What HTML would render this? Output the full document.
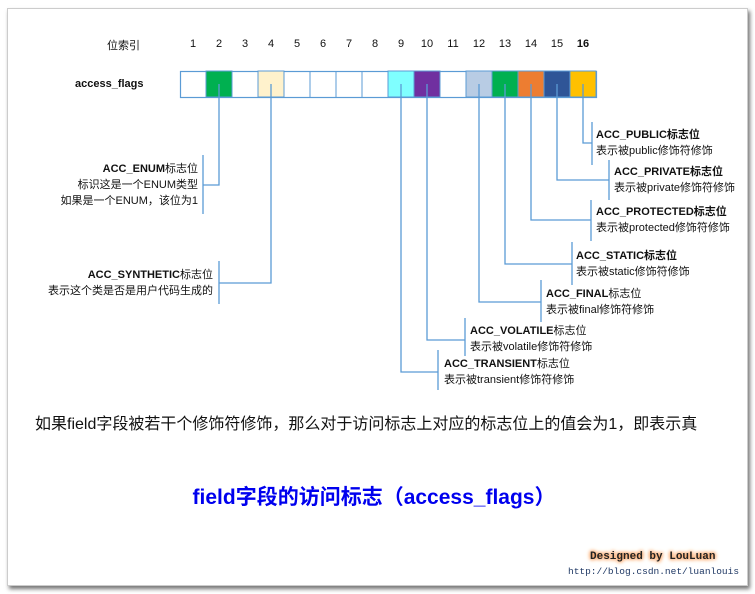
<!DOCTYPE html>
<html><head><meta charset="utf-8"><style>
body{margin:0;width:755px;height:594px;background:#fff;position:relative;overflow:hidden;font-family:"Liberation Sans","Noto Sans CJK SC",sans-serif;color:#111}
.frame{position:absolute;left:7px;top:8px;width:739px;height:576px;background:#fff;border:1px solid #ccc;box-shadow:2px 3px 4px rgba(0,0,0,.55)}
.t{position:absolute;font-size:11px;line-height:16px;white-space:nowrap}
.r{text-align:right}
.n{position:absolute;top:38px;width:26px;text-align:center;font-size:11px}
b{font-weight:bold}
</style></head><body>
<div class="frame"></div>
<svg style="position:absolute;left:0;top:0" width="755" height="594">
<g stroke="#5b9bd5" stroke-width="1.2" fill="none">
<rect x="180.5" y="71.5" width="416" height="26"/>
</g>
<g stroke="#5b9bd5" stroke-width="1">
<rect x="206" y="71" width="26" height="26" fill="#00b050"/>
<rect x="258" y="71" width="26" height="26" fill="#fff2cc"/>
<rect x="388" y="71" width="26" height="26" fill="#7fffff"/>
<rect x="414" y="71" width="26" height="26" fill="#7030a0"/>
<rect x="466" y="71" width="26" height="26" fill="#b8cce4"/>
<rect x="492" y="71" width="26" height="26" fill="#00b050"/>
<rect x="518" y="71" width="26" height="26" fill="#ed7d31"/>
<rect x="544" y="71" width="26" height="26" fill="#2f5597"/>
<rect x="570" y="71" width="26" height="26" fill="#ffc000"/>
<line x1="232" y1="71" x2="232" y2="97"/><line x1="284" y1="71" x2="284" y2="97"/>
<line x1="310" y1="71" x2="310" y2="97"/><line x1="336" y1="71" x2="336" y2="97"/>
<line x1="362" y1="71" x2="362" y2="97"/><line x1="440" y1="71" x2="440" y2="97"/>
</g>
<g stroke="#5b9bd5" stroke-width="1.3" fill="none">
<polyline points="219,84 219,185 203,185"/><line x1="203" y1="155" x2="203" y2="214"/>
<polyline points="271,84 271,283 219,283"/><line x1="219" y1="261" x2="219" y2="304"/>
<polyline points="401,84 401,372 438,372"/><line x1="438" y1="350" x2="438" y2="390"/>
<polyline points="427,84 427,340 465,340"/><line x1="465" y1="318" x2="465" y2="356"/>
<polyline points="479,84 479,302 541,302"/><line x1="541" y1="280" x2="541" y2="322"/>
<polyline points="505,84 505,264 572,264"/><line x1="572" y1="242" x2="572" y2="285"/>
<polyline points="531,84 531,220 591,220"/><line x1="591" y1="200" x2="591" y2="241"/>
<polyline points="557,84 557,180 609,180"/><line x1="609" y1="160" x2="609" y2="200"/>
<polyline points="583,84 583,143 592,143"/><line x1="592" y1="122" x2="592" y2="165"/>
</g>
</svg>
<div class="t" style="left:107px;top:38px">位索引</div>
<div class="n" style="left:180px">1</div><div class="n" style="left:206px">2</div><div class="n" style="left:232px">3</div><div class="n" style="left:258px">4</div><div class="n" style="left:284px">5</div><div class="n" style="left:310px">6</div><div class="n" style="left:336px">7</div><div class="n" style="left:362px">8</div><div class="n" style="left:388px">9</div><div class="n" style="left:414px">10</div><div class="n" style="left:440px">11</div><div class="n" style="left:466px">12</div><div class="n" style="left:492px">13</div><div class="n" style="left:518px">14</div><div class="n" style="left:544px">15</div><div class="n" style="left:570px"><b>16</b></div>
<div class="t" style="left:75px;top:76px"><b>access_flags</b></div>
<div class="t r" style="right:557px;top:161px"><b>ACC_ENUM</b>标志位<br>标识这是一个ENUM类型<br>如果是一个ENUM，该位为1</div>
<div class="t r" style="right:542px;top:267px"><b>ACC_SYNTHETIC</b>标志位<br>表示这个类是否是用户代码生成的</div>
<div class="t" style="left:596px;top:127px"><b>ACC_PUBLIC标志位</b><br>表示被public修饰符修饰</div>
<div class="t" style="left:614px;top:164px"><b>ACC_PRIVATE标志位</b><br>表示被private修饰符修饰</div>
<div class="t" style="left:596px;top:204px"><b>ACC_PROTECTED标志位</b><br>表示被protected修饰符修饰</div>
<div class="t" style="left:576px;top:248px"><b>ACC_STATIC标志位</b><br>表示被static修饰符修饰</div>
<div class="t" style="left:546px;top:286px"><b>ACC_FINAL</b>标志位<br>表示被final修饰符修饰</div>
<div class="t" style="left:470px;top:323px"><b>ACC_VOLATILE</b>标志位<br>表示被volatile修饰符修饰</div>
<div class="t" style="left:444px;top:356px"><b>ACC_TRANSIENT</b>标志位<br>表示被transient修饰符修饰</div>
<div class="t" style="left:35px;top:414px;font-size:16px;line-height:22px">如果field字段被若干个修饰符修饰，那么对于访问标志上对应的标志位上的值会为1，即表示真</div>
<div class="t" style="left:0;width:748px;text-align:center;top:485px;font-size:21px;line-height:26px;color:#0000ee;font-weight:bold">field字段的访问标志（access_flags）</div>
<div class="t" style="left:590px;top:549px;font-family:'Liberation Mono',monospace;font-weight:bold;font-size:11px;color:#222;text-shadow:0 0 3px #f8a060,0 0 4px #f8a060,0 0 5px #f8b070">Designed by LouLuan</div>
<div class="t" style="left:568px;top:564px;font-family:'Liberation Mono',monospace;font-size:9.5px;color:#1f3864">http://blog.csdn.net/luanlouis</div>
</body></html>
